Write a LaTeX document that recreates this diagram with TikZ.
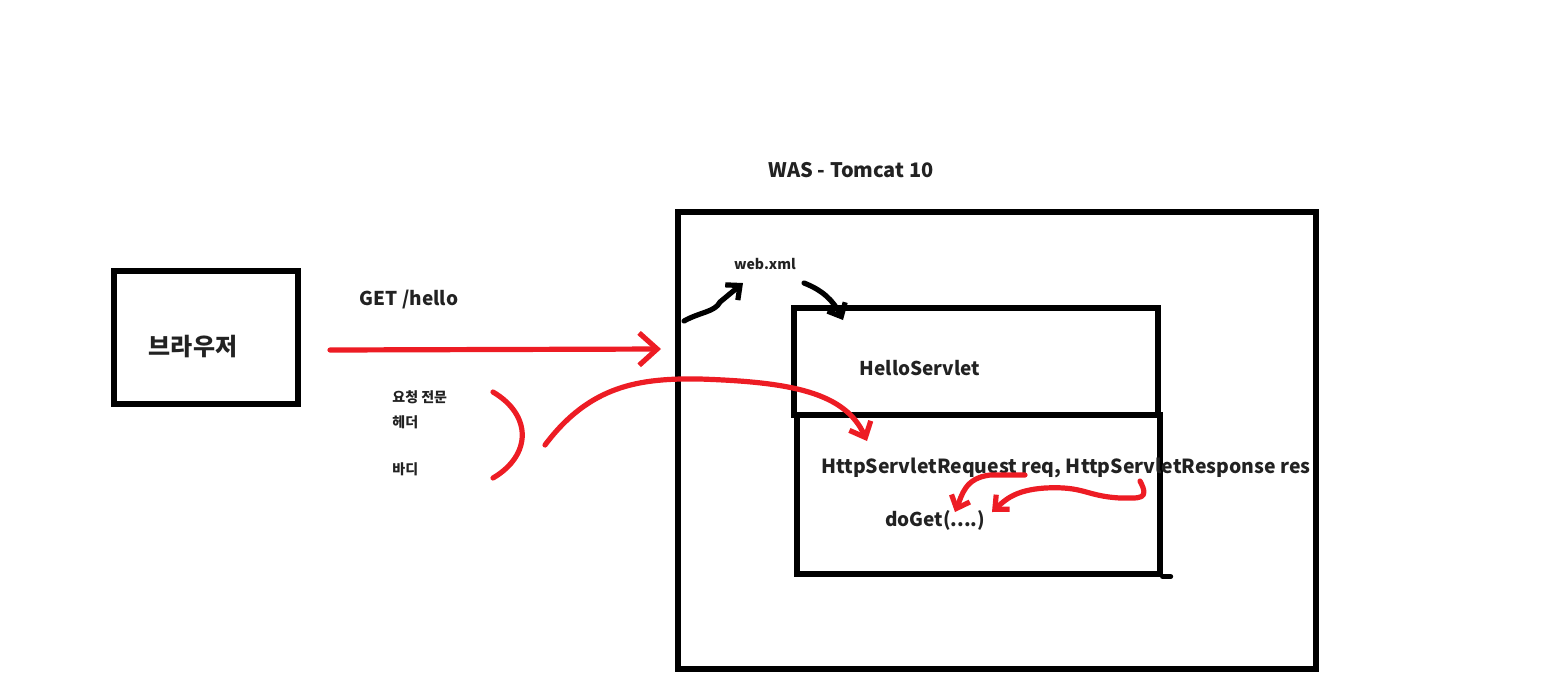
\documentclass[tikz,border=0pt]{standalone}
\usepackage{fontspec}
\setmainfont{Noto Sans CJK KR}
\usetikzlibrary{arrows.meta}
\definecolor{paintred}{HTML}{ED1C24}
\definecolor{inktext}{HTML}{222222}
\begin{document}
\begin{tikzpicture}[x=0.5pt,y=-0.5pt,
  box/.style={draw,line width=2.6pt,inner sep=0pt},
  lbl/.style={text=inktext,font=\bfseries,inner sep=0pt},
  small/.style={lbl,font=\bfseries\fontsize{7}{8}\selectfont},
  mid/.style={lbl,font=\bfseries\fontsize{9.5}{11}\selectfont},
  big/.style={lbl,font=\bfseries\fontsize{12}{14}\selectfont},
  flow/.style={draw=paintred,line width=2.6pt,line cap=round,line join=round},
  ink/.style={draw=black,line width=2.6pt,line cap=round,line join=round},
  barb/.style={-{Straight Barb[length=#1,width=1.8*#1,line width=2.6pt]}},
  barb/.default=6pt]
\useasboundingbox (0,0) rectangle (1549,693);
\node[box,minimum width=92pt,minimum height=66.5pt] (browser) at (206,337.5) {};
\node[big] (browsertxt) at (193,347) {브라우저};
\node[mid] (get) at (409,300) {GET /hello};
\node[small,anchor=west] (msg) at (392,397) {요청 전문};
\node[small,anchor=west] (head) at (392,422) {헤더};
\node[small,anchor=west] (body) at (392,469) {바디};
\node[box,minimum width=319pt,minimum height=228.5pt] (was) at (997,440.5) {};
\node[mid,font=\bfseries\fontsize{10}{12}\selectfont] (wastitle) at (851,170) {WAS - Tomcat 10};
\node[small] (webxml) at (765,264) {web.xml};
\node[box,minimum width=182pt,minimum height=53.5pt] (servlet) at (976,361.5) {};
\node[box,minimum width=181.5pt,minimum height=79.5pt] (method) at (978.5,494.5) {};
\node[mid] (hello) at (920,368) {HelloServlet};
\node[mid,font=\bfseries\fontsize{9.7}{11}\selectfont] (params) at (1066,468) {HttpServletRequest req, HttpServletResponse res};
\node[mid] (doget) at (935,520) {doGet(....)};
\coordinate (reqfrom) at (330,350);
\coordinate (reqto) at (661,349);
\coordinate (wasin) at (684,321);
\coordinate (xmlin) at (743,283);
\coordinate (xmlout) at (804,283);
\coordinate (servletin) at (843,320);
\coordinate (bodyfrom) at (545,445);
\coordinate (bodyto) at (867,441);
\coordinate (reqarg) at (1025,475);
\coordinate (resarg) at (1140,481);
\draw[ink] (method.south east) -- ++(8,0);
\draw[flow,barb=9pt] (reqfrom) -- (reqto);
\draw[flow] (493,392) .. controls (532,415) and (532,455) .. (493,478);
\draw[flow,barb=6.5pt] (bodyfrom) .. controls (590,385) and (640,378) .. (700,379)
  .. controls (790,382) and (845,392) .. (bodyto);
\draw[ink,barb=5.5pt] (wasin) .. controls (700,312) and (715,312) .. (720,302) -- (xmlin);
\draw[ink,barb=5.5pt] (xmlout) .. controls (822,290) and (833,300) .. (servletin);
\draw[flow,barb=5.5pt] (reqarg) -- (990,475) .. controls (965,478) and (962,495) .. (955,512);
\draw[flow,barb=5.5pt] (resarg) .. controls (1150,500) and (1140,498) .. (1120,498)
  .. controls (1085,496) and (1085,486) .. (1045,488) .. controls (1015,490) and (1005,500) .. (992,512);
\end{tikzpicture}
\end{document}
